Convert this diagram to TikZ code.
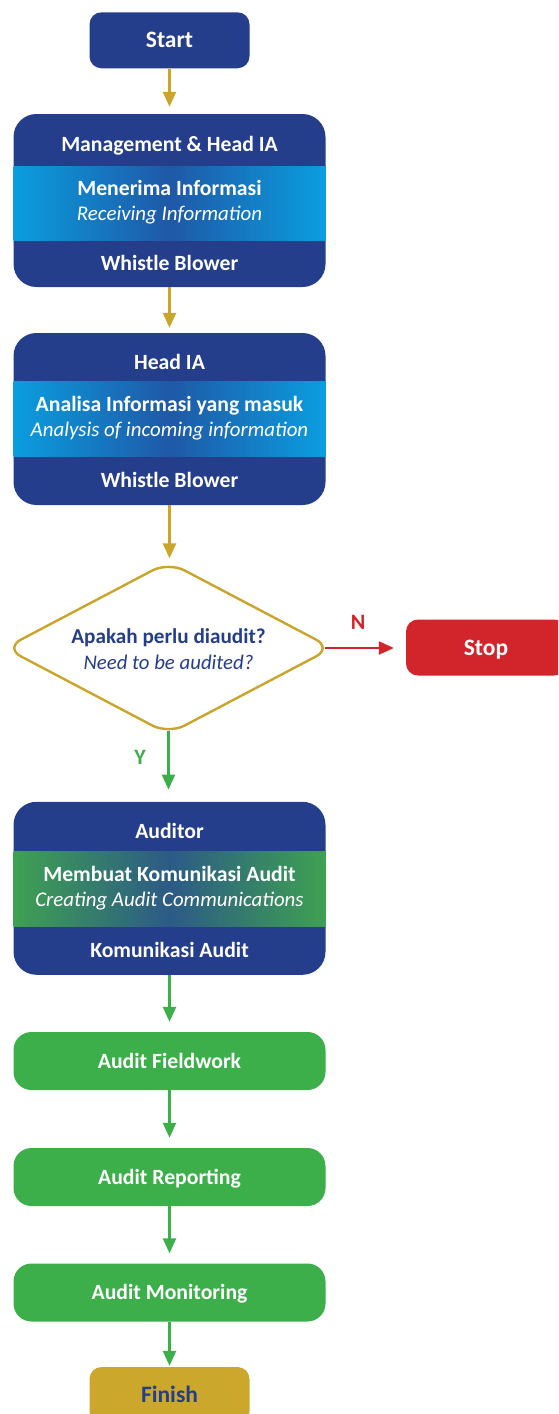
\documentclass[tikz,border=0pt]{standalone}
\usepackage{fontspec}
\setmainfont{Carlito}
\usetikzlibrary{arrows.meta,shapes.geometric}

\definecolor{navy}{HTML}{253E8C}
\definecolor{skyc}{HTML}{0A9EDF}
\definecolor{deepb}{HTML}{1F58A6}
\definecolor{leaf}{HTML}{3EA151}
\definecolor{teal}{HTML}{2C5A86}
\definecolor{grn}{HTML}{3DAF4A}
\definecolor{gold}{HTML}{C9A52B}
\definecolor{goldfill}{HTML}{CBA82C}
\definecolor{redc}{HTML}{D2242B}

\begin{document}
\begin{tikzpicture}[x=1pt,y=-1pt,
  panel/.style={fill=navy, rounded corners=23pt, minimum width=312pt, inner sep=0pt},
  term/.style={rounded corners=12pt, minimum width=160pt, minimum height=56pt, inner sep=0pt,
    text height=15pt, text depth=0pt, font=\bfseries\fontsize{23.5}{28}\selectfont},
  stage/.style={fill=grn, rounded corners=18pt, minimum width=312pt, minimum height=58pt, inner sep=0pt,
    text=white, text height=14pt, text depth=0pt, font=\bfseries\fontsize{21.7}{26}\selectfont},
  hd/.style={text=white, anchor=base, inner sep=0pt, font=\bfseries\fontsize{21.7}{26}\selectfont},
  sub/.style={text=white, anchor=base, inner sep=0pt, font=\itshape\fontsize{20.9}{26}\selectfont},
  tip/.style={-{Triangle[length=15pt,width=13pt]}},
  goldarrow/.style={draw=gold, line width=2.4pt, tip},
  greenarrow/.style={draw=grn, line width=2.4pt, tip},
  redarrow/.style={draw=redc, line width=2.4pt, tip},
  branchlbl/.style={anchor=base, inner sep=0pt, font=\bfseries\fontsize{22}{26}\selectfont}
]
\useasboundingbox (0,0) rectangle (558,1414);
\clip (0,0) rectangle (558,1414);
\fill[white] (0,0) rectangle (558,1414);

% start terminal
\node[term, fill=navy, text=white] (start) at (169.5,40.3) {Start};

% panel 1: receiving information
\node[panel, minimum height=173pt] (p1) at (169.5,200.5) {};
\shade[left color=skyc, right color=deepb] (13.5,166.7) rectangle (169.5,240.7);
\shade[left color=deepb, right color=skyc] (169.5,166.7) rectangle (325.5,240.7);
\node[hd]  (p1a) at (169.5,151.7) {Management \& Head IA};
\node[hd]  (p1b) at (169.5,195)   {Menerima Informasi};
\node[sub] (p1c) at (169.5,220.7) {Receiving Information};
\node[hd]  (p1d) at (169.5,270)   {Whistle Blower};

% panel 2: analysis
\node[panel, minimum height=172pt] (p2) at (169.5,419) {};
\shade[left color=skyc, right color=deepb] (13.5,381.7) rectangle (169.5,456);
\shade[left color=deepb, right color=skyc] (169.5,381.7) rectangle (325.5,456);
\node[hd]  (p2a) at (169.5,369) {Head IA};
\node[hd]  (p2b) at (169.5,411) {Analisa Informasi yang masuk};
\node[sub] (p2c) at (169.5,436) {Analysis of incoming information};
\node[hd]  (p2d) at (169.5,487) {Whistle Blower};

% decision
\node[diamond, draw=gold, line width=2.4pt, fill=white, rounded corners=18pt,
      minimum width=328pt, minimum height=173pt, inner sep=0pt] (dec) at (168.5,648) {};
\node[anchor=base, inner sep=0pt, text=navy, font=\bfseries\fontsize{21.2}{26}\selectfont]
  (deca) at (168.5,643) {Apakah perlu diaudit?};
\node[anchor=base, inner sep=0pt, text=navy, font=\itshape\fontsize{20.8}{26}\selectfont]
  (decb) at (168.5,669) {Need to be audited?};

% stop terminal
\node[term, fill=redc, text=white] (stop) at (486,647.5) {Stop};

% panel 3: audit communication
\node[panel, minimum height=173pt] (p3) at (169.5,888.3) {};
\shade[left color=leaf, right color=teal] (13.5,851.7) rectangle (169.5,926);
\shade[left color=teal, right color=leaf] (169.5,851.7) rectangle (325.5,926);
\node[hd]  (p3a) at (169.5,838) {Auditor};
\node[hd]  (p3b) at (169.5,881) {Membuat Komunikasi Audit};
\node[sub] (p3c) at (169.5,906) {Creating Audit Communications};
\node[hd]  (p3d) at (169.5,957) {Komunikasi Audit};

% audit stages
\node[stage] (fw)  at (169.5,1061)   {Audit Fieldwork};
\node[stage] (rep) at (169.5,1177)   {Audit Reporting};
\node[stage] (mon) at (169.5,1292.5) {Audit Monitoring};

% finish terminal
\node[term, fill=goldfill, text=navy] (fin) at (169.5,1395) {Finish};

% connectors
\draw[goldarrow, shorten >=7pt] (start) -- (p1);
\draw[goldarrow, shorten >=5pt] (p1) -- (p2);
\draw[goldarrow, shorten >=2pt] (p2.south) -- (p2.south |- dec.north);
\draw[redarrow, shorten <=-9pt, shorten >=12pt] (dec.east) -- (dec.east -| stop.west);
\draw[greenarrow, shorten <=-5pt, shorten >=12pt] (dec.south) -- (dec.south |- p3.north);
\draw[greenarrow, shorten >=10pt] (p3) -- (fw);
\draw[greenarrow, shorten >=10pt] (fw) -- (rep);
\draw[greenarrow, shorten >=10pt] (rep) -- (mon);
\draw[greenarrow, shorten >=1pt] (mon) -- (fin);

% branch labels
\node[branchlbl, text=redc] (nlab) at (358,629) {N};
\node[branchlbl, text=grn]  (ylab) at (140,764) {Y};
\end{tikzpicture}
\end{document}
